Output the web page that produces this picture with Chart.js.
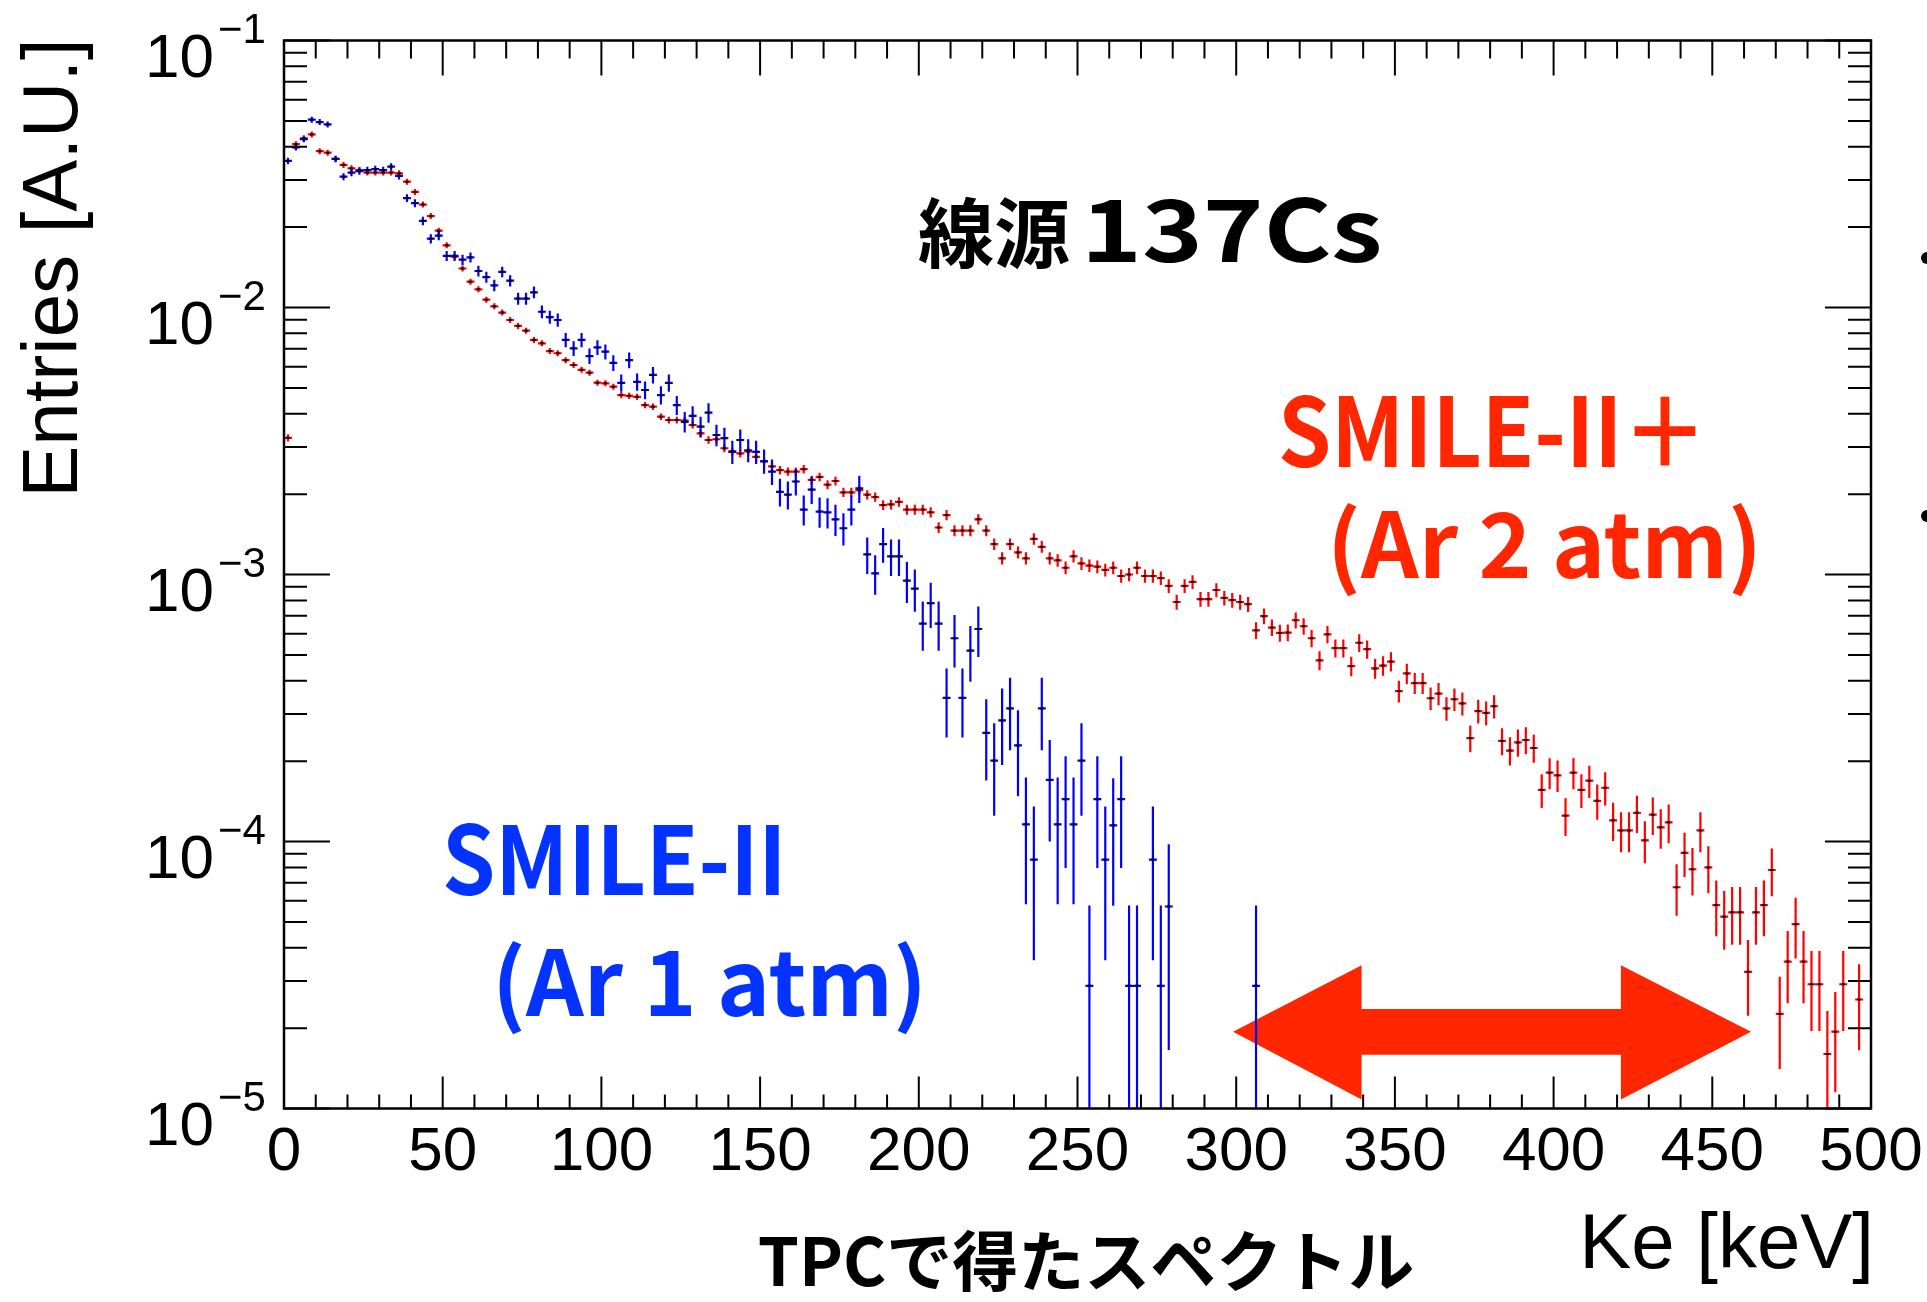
<!DOCTYPE html>
<html>
<head>
<meta charset="utf-8">
<script src="https://cdn.jsdelivr.net/npm/chart.js@4.4.1/dist/chart.umd.min.js"></script>
<style>
html,body{margin:0;padding:0;background:#fff;}
canvas{display:block;}
</style>
</head>
<body>
<canvas id="c" width="1927" height="1302"></canvas>
<script>
// ---------------- data ----------------
const binWidth = 2.5;          // keV per histogram bin
const energyMin = 0;           // keV, low edge of first bin

const xTickValues = [0, 50, 100, 150, 200, 250, 300, 350, 400, 450, 500];
const xTickLabels = ['0', '50', '100', '150', '200', '250', '300', '350', '400', '450', '500'];
const yTickValues = [1e-1, 1e-2, 1e-3, 1e-4, 1e-5];
const yTickExponents = ['\u22121', '\u22122', '\u22123', '\u22124', '\u22125'];

// SMILE-II+ (Ar 2 atm), entries per 2.5 keV bin
const redValues = [
 3.25e-3, 4.09e-2, 4.30e-2, 4.45e-2, 3.85e-2, 3.80e-2, 3.60e-2, 3.42e-2, 3.32e-2, 3.27e-2,
 3.20e-2, 3.20e-2, 3.20e-2, 3.20e-2, 3.18e-2, 2.96e-2, 2.71e-2, 2.43e-2, 2.20e-2, 1.94e-2,
 1.71e-2, 1.55e-2, 1.40e-2, 1.25e-2, 1.17e-2, 1.07e-2, 1.01e-2, 9.57e-3, 8.98e-3, 8.53e-3,
 8.19e-3, 7.56e-3, 7.34e-3, 6.87e-3, 6.74e-3, 6.35e-3, 6.09e-3, 5.84e-3, 5.70e-3, 5.23e-3,
 5.20e-3, 5.05e-3, 4.70e-3, 4.67e-3, 4.63e-3, 4.31e-3, 4.25e-3, 3.90e-3, 3.79e-3, 3.79e-3,
 3.77e-3, 3.63e-3, 3.38e-3, 3.19e-3, 3.21e-3, 2.97e-3, 2.89e-3, 2.84e-3, 2.89e-3, 2.76e-3,
 2.65e-3, 2.54e-3, 2.46e-3, 2.43e-3, 2.43e-3, 2.48e-3, 2.26e-3, 2.32e-3, 2.17e-3, 2.24e-3,
 2.03e-3, 2.03e-3, 2.07e-3, 1.99e-3, 1.95e-3, 1.82e-3, 1.83e-3, 1.87e-3, 1.75e-3, 1.75e-3,
 1.75e-3, 1.71e-3, 1.50e-3, 1.67e-3, 1.46e-3, 1.46e-3, 1.46e-3, 1.61e-3, 1.46e-3, 1.30e-3,
 1.15e-3, 1.30e-3, 1.21e-3, 1.15e-3, 1.36e-3, 1.27e-3, 1.15e-3, 1.13e-3, 1.06e-3, 1.17e-3,
 1.10e-3, 1.08e-3, 1.07e-3, 1.04e-3, 1.06e-3, 9.87e-4, 1.00e-3, 1.06e-3, 9.87e-4, 9.87e-4,
 9.70e-4, 9.06e-4, 7.89e-4, 9.06e-4, 9.38e-4, 8.08e-4, 8.08e-4, 8.75e-4, 8.17e-4, 8.02e-4,
 7.89e-4, 7.74e-4, 6.18e-4, 6.98e-4, 6.33e-4, 6.04e-4, 6.06e-4, 6.74e-4, 6.40e-4, 5.77e-4,
 4.77e-4, 5.97e-4, 5.30e-4, 5.30e-4, 4.54e-4, 5.55e-4, 5.25e-4, 4.45e-4, 4.56e-4, 4.72e-4,
 3.66e-4, 4.26e-4, 3.92e-4, 3.92e-4, 3.44e-4, 3.58e-4, 3.15e-4, 3.41e-4, 3.29e-4, 2.44e-4,
 3.08e-4, 3.03e-4, 3.21e-4, 2.38e-4, 2.19e-4, 2.35e-4, 2.40e-4, 2.24e-4, 1.56e-4, 1.81e-4,
 1.77e-4, 1.25e-4, 1.81e-4, 1.56e-4, 1.69e-4, 1.42e-4, 1.59e-4, 1.20e-4, 1.10e-4, 1.10e-4,
 1.28e-4, 1.01e-4, 1.26e-4, 1.13e-4, 1.18e-4, 6.74e-5, 9.07e-5, 7.87e-5, 1.10e-4, 8.00e-5,
 5.78e-5, 5.23e-5, 5.43e-5, 5.43e-5, 3.25e-5, 5.43e-5, 5.78e-5, 7.82e-5, 2.26e-5, 3.55e-5,
 4.90e-5, 3.55e-5, 2.92e-5, 2.92e-5, 1.60e-5, 1.94e-5, 2.92e-5, null, 2.56e-5, null
];

// SMILE-II (Ar 1 atm), entries per 2.5 keV bin
const blueValues = [
 3.54e-2, 3.98e-2, 4.27e-2, 5.05e-2, 4.95e-2, 4.85e-2, 3.60e-2, 3.09e-2, 3.20e-2, 3.24e-2,
 3.27e-2, 3.30e-2, 3.27e-2, 3.37e-2, 3.11e-2, 2.57e-2, 2.46e-2, 2.11e-2, 1.81e-2, 1.86e-2,
 1.56e-2, 1.56e-2, 1.51e-2, 1.54e-2, 1.37e-2, 1.30e-2, 1.21e-2, 1.36e-2, 1.26e-2, 1.08e-2,
 1.08e-2, 1.14e-2, 9.64e-3, 9.20e-3, 8.98e-3, 7.56e-3, 7.03e-3, 7.56e-3, 6.58e-3, 7.09e-3,
 6.83e-3, 6.20e-3, 5.22e-3, 6.35e-3, 5.27e-3, 4.91e-3, 5.59e-3, 4.70e-3, 5.22e-3, 4.31e-3,
 3.73e-3, 3.93e-3, 3.58e-3, 4.04e-3, 3.33e-3, 3.24e-3, 2.88e-3, 3.19e-3, 2.92e-3, 2.88e-3,
 2.66e-3, 2.43e-3, 2.04e-3, 1.99e-3, 2.23e-3, 1.75e-3, 2.08e-3, 1.72e-3, 1.71e-3, 1.61e-3,
 1.49e-3, 1.75e-3, 2.10e-3, 1.19e-3, 1.01e-3, 1.30e-3, 1.17e-3, 1.17e-3, 9.48e-4, 8.85e-4,
 6.55e-4, 7.81e-4, 6.55e-4, 3.45e-4, 5.77e-4, 3.45e-4, 5.19e-4, 6.25e-4, 2.55e-4, 2.01e-4,
 2.84e-4, 3.15e-4, 2.29e-4, 1.16e-4, 8.55e-5, 3.15e-4, 1.70e-4, 1.16e-4, 1.44e-4, 1.16e-4,
 2.01e-4, 2.88e-5, 1.44e-4, 8.55e-5, 1.15e-4, 1.44e-4, 2.88e-5, 2.88e-5, null, 8.55e-5,
 2.88e-5, 5.71e-5, null, null, null, null, null, null, null, null,
 null, null, 2.88e-5
];

// weight of a single entry (read from the 1-entry levels / error bar sizes)
const redUnit = 3.22e-6;
const blueUnit = 2.88e-5;

// ---------------- styles / layout ----------------
const RED_BAR = '#ff0000';
const BLUE_BAR = '#0000ff';
const SLIDE_RED = '#ff2600';
const SLIDE_BLUE = '#0433ff';
const LATIN = '"Liberation Sans", Arial, Helvetica, sans-serif';
const CJK = '"Noto Sans CJK JP", "Noto Sans", sans-serif';

function toPoints(values, unit) {
  const pts = [];
  values.forEach((v, i) => {
    if (v == null) return;
    pts.push({ x: energyMin + binWidth * (i + 0.5), y: v, err: Math.sqrt(v * unit) });
  });
  return pts;
}

// arrow annotation in data coordinates (keV, entries)
const arrowKeV = [299, 339.5, 421.2, 462.2];
const arrowLevels = { mid: 1.94e-5, headTop: 3.44e-5, headBot: 1.08e-5, shaftTop: 2.36e-5, shaftBot: 1.59e-5 };

const errorBars = {
  id: 'errorBars',
  beforeDatasetsDraw(chart) {
    const { ctx, chartArea: a, scales: { x, y } } = chart;
    ctx.save();
    // arrow (under the data)
    const ax = arrowKeV.map(v => x.getPixelForValue(v));
    const ay = {};
    for (const k in arrowLevels) ay[k] = y.getPixelForValue(arrowLevels[k]);
    ctx.fillStyle = SLIDE_RED;
    ctx.beginPath();
    ctx.moveTo(ax[0], ay.mid);
    ctx.lineTo(ax[1], ay.headTop);
    ctx.lineTo(ax[1], ay.shaftTop);
    ctx.lineTo(ax[2], ay.shaftTop);
    ctx.lineTo(ax[2], ay.headTop);
    ctx.lineTo(ax[3], ay.mid);
    ctx.lineTo(ax[2], ay.headBot);
    ctx.lineTo(ax[2], ay.shaftBot);
    ctx.lineTo(ax[1], ay.shaftBot);
    ctx.lineTo(ax[1], ay.headBot);
    ctx.closePath();
    ctx.fill();

    ctx.beginPath();
    ctx.rect(a.left, a.top, a.right - a.left, a.bottom - a.top);
    ctx.clip();
    ctx.lineWidth = 2.2;
    chart.data.datasets.forEach(ds => {
      ctx.strokeStyle = ds.errColor;
      ctx.beginPath();
      ds.data.forEach(p => {
        const px = x.getPixelForValue(p.x);
        const py = y.getPixelForValue(p.y);
        const xl = x.getPixelForValue(p.x - binWidth / 2);
        const xr = x.getPixelForValue(p.x + binWidth / 2);
        let yHi = y.getPixelForValue(p.y + p.err);
        const lo = p.y - p.err;
        let yLo = lo > 0 ? Math.min(y.getPixelForValue(lo), a.bottom + 5) : a.bottom + 5;
        yHi = Math.min(yHi, py - 3);
        yLo = Math.max(yLo, py + 3);
        ctx.moveTo(xl, py); ctx.lineTo(xr, py);
        ctx.moveTo(px, yHi); ctx.lineTo(px, yLo);
      });
      ctx.stroke();
    });
    ctx.restore();
  }
};

const decorations = {
  id: 'decorations',
  afterDraw(chart) {
    const { ctx, chartArea: a, scales: { x, y } } = chart;
    ctx.save();
    // ticks
    ctx.strokeStyle = '#000';
    ctx.lineWidth = 2;
    ctx.beginPath();
    for (let v = x.min; v <= x.max + 1e-9; v += 10) {
      const px = x.getPixelForValue(v);
      const major = Math.abs(v % 50) < 1e-9;
      const lb = major ? 32 : 14, lt = major ? 35 : 18;
      ctx.moveTo(px, a.bottom); ctx.lineTo(px, a.bottom - lb);
      ctx.moveTo(px, a.top); ctx.lineTo(px, a.top + lt);
    }
    for (let e = -5; e <= -1; e++) {
      for (let m = 1; m <= 9; m++) {
        const v = m * Math.pow(10, e);
        if (v > y.max * 1.0001) break;
        const py = y.getPixelForValue(v);
        const len = m === 1 ? 46 : 23;
        ctx.moveTo(a.left, py); ctx.lineTo(a.left + len, py);
        ctx.moveTo(a.right, py); ctx.lineTo(a.right - len, py);
      }
    }
    ctx.stroke();
    ctx.lineWidth = 2.5;
    ctx.strokeRect(a.left, a.top, a.right - a.left, a.bottom - a.top);

    // y tick labels 10^n
    ctx.fillStyle = '#000';
    ctx.textBaseline = 'alphabetic';
    yTickValues.forEach((v, i) => {
      const py = y.getPixelForValue(v);
      ctx.font = '62px ' + LATIN;
      ctx.textAlign = 'right';
      ctx.fillText('10', a.left - 70, py + 36);
      ctx.font = '42px ' + LATIN;
      ctx.textAlign = 'left';
      ctx.fillText(yTickExponents[i], a.left - 66, py + 2);
    });

    // axis titles
    ctx.font = '78px ' + LATIN;
    ctx.textAlign = 'right';
    ctx.fillText('Ke [keV]', 1874, 1268);
    ctx.save();
    ctx.translate(77, 268);
    ctx.rotate(-Math.PI / 2);
    ctx.textAlign = 'center';
    ctx.fillText('Entries [A.U.]', 0, 0);
    ctx.restore();

    // slide annotations
    const notes = [
      { t: '線源', x: 918, y: 262, size: 76, sx: 1, color: '#000', align: 'left' },
      { t: '137Cs', x: 1081, y: 262, size: 86, sx: 1.2, color: '#000', align: 'left' },
      { t: 'SMILE-II＋', x: 1278, y: 467, size: 96, sx: 0.89, color: SLIDE_RED, align: 'left' },
      { t: '(Ar 2 atm)', x: 1327, y: 578, size: 90, sx: 1.0, color: SLIDE_RED, align: 'left' },
      { t: 'SMILE-II', x: 442, y: 895, size: 95, sx: 0.9, color: SLIDE_BLUE, align: 'left' },
      { t: '(Ar 1 atm)', x: 492, y: 1016, size: 90, sx: 1.0, color: SLIDE_BLUE, align: 'left' },
      { t: 'TPCで得たスペクトル', x: 1086, y: 1286, size: 66, sx: 1.0, color: '#000', align: 'center' }
    ];
    notes.forEach(n => {
      ctx.save();
      ctx.translate(n.x, n.y);
      ctx.scale(n.sx, 1);
      ctx.font = 'bold ' + n.size + 'px ' + CJK;
      ctx.fillStyle = n.color;
      ctx.textAlign = n.align;
      ctx.fillText(n.t, 0, 0);
      ctx.restore();
    });

    // bits of slide content cut off at the right edge
    ctx.fillStyle = '#000';
    [258, 516].forEach(yy => {
      ctx.beginPath();
      ctx.arc(1927, yy, 6, 0, Math.PI * 2);
      ctx.fill();
    });
    ctx.restore();
  }
};

Chart.defaults.font.family = LATIN;
Chart.defaults.color = '#000';

new Chart(document.getElementById('c'), {
  type: 'scatter',
  data: {
    datasets: [
      {
        label: 'SMILE-II+ (Ar 2 atm)',
        data: toPoints(redValues, redUnit),
        errColor: RED_BAR,
        pointStyle: 'line',
        pointRadius: 1.8,
        pointHoverRadius: 1.8,
        pointBorderColor: '#000',
        pointBorderWidth: 2,
        pointBackgroundColor: '#000',
        order: 2
      },
      {
        label: 'SMILE-II (Ar 1 atm)',
        data: toPoints(blueValues, blueUnit),
        errColor: BLUE_BAR,
        pointStyle: 'line',
        pointRadius: 1.8,
        pointHoverRadius: 1.8,
        pointBorderColor: '#000',
        pointBorderWidth: 2,
        pointBackgroundColor: '#000',
        order: 1
      }
    ]
  },
  options: {
    responsive: false,
    devicePixelRatio: 1,
    animation: false,
    events: [],
    layout: { padding: { top: 40.5, right: 56, left: 0, bottom: 0 } },
    plugins: { legend: { display: false }, tooltip: { enabled: false }, title: { display: false } },
    scales: {
      x: {
        type: 'linear',
        min: 0, max: 500,
        afterBuildTicks(scale) { scale.ticks = xTickValues.map(v => ({ value: v })); },
        afterFit(scale) { scale.height = 193.5; scale.paddingLeft = 0; scale.paddingRight = 0; },
        ticks: {
          autoSkip: false, maxRotation: 0, padding: 7,
          font: { size: 62, family: LATIN }, color: '#000',
          callback: (v) => xTickLabels[xTickValues.indexOf(v)]
        },
        grid: { display: false, drawTicks: false },
        border: { display: false }
      },
      y: {
        type: 'logarithmic',
        min: 1e-5, max: 1e-1,
        afterBuildTicks(scale) { scale.ticks = yTickValues.map(v => ({ value: v })); },
        afterFit(scale) { scale.width = 284; },
        ticks: { display: false },
        grid: { display: false, drawTicks: false },
        border: { display: false }
      }
    }
  },
  plugins: [errorBars, decorations]
});
</script>
</body>
</html>
